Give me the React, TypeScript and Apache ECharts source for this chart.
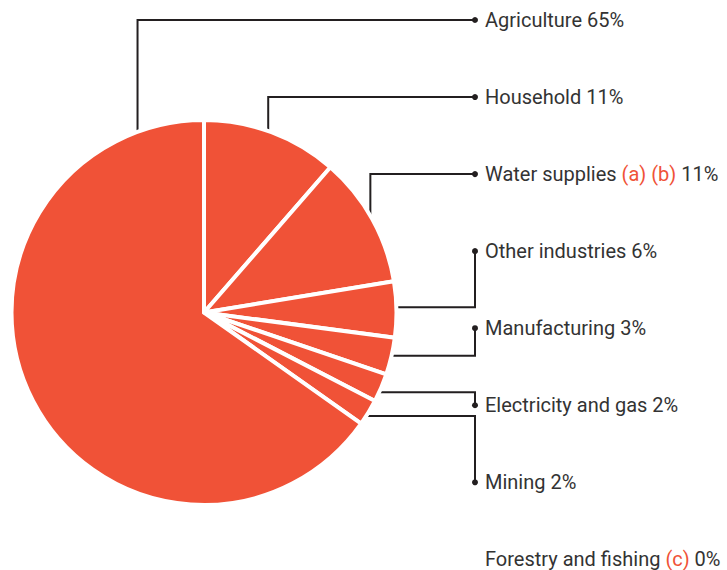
import React, { useEffect, useRef } from 'react';
import * as echarts from 'echarts';

// ---- data ----
const categories = [
  'Agriculture',
  'Household',
  'Water supplies',
  'Other industries',
  'Manufacturing',
  'Electricity and gas',
  'Mining',
  'Forestry and fishing',
];
const footnotes = ['', '', '(a) (b)', '', '', '', '', '(c)'];
const labelPercents = [65, 11, 11, 6, 3, 2, 2, 0];
// slice sizes as drawn in the picture (share of the circle, %)
const sliceShares = [65.2, 11.4, 11.0, 4.7, 3.1, 2.4, 2.2, 0];
// order of slices clockwise from 12 o'clock
const pieOrder = [1, 2, 3, 4, 5, 6, 0, 7];

// ---- style / layout ----
const COLOR = '#f05237';
const INK = '#231f20';
const TEXT = '#333333';
const FONT = 'Roboto';
const FONT_SIZE = 20;
const CX = 204;
const CY = 312.5;
const R = 190.5;
const BORDER = 4;
const DOT_X = 475;
const TEXT_X = 485;
const ROW0 = 20;
const ROW_STEP = 77.05;
// where along its slice each leader line attaches (0 = start, 1 = end)
const anchorFrac = [0.913, 0.48, 0.5, 0.46, 0.5, 0.7, 0.7, 0.5];

function sliceAngles() {
  const total = sliceShares.reduce((a, b) => a + b, 0);
  const res: { start: number; end: number }[] = [];
  let acc = 0;
  pieOrder.forEach((c) => {
    const start = acc;
    acc += (sliceShares[c] / total) * 360;
    res[c] = { start, end: acc };
  });
  return res;
}

function leaderPoints(c: number): number[][] | null {
  if (c === 7) return null;
  const ang = sliceAngles()[c];
  const a = ang.start + anchorFrac[c] * (ang.end - ang.start);
  const rad = (a * Math.PI) / 180;
  const ax = CX + R * Math.sin(rad);
  const ay = CY - R * Math.cos(rad);
  const rowY = ROW0 + ROW_STEP * c;
  if (Math.cos(rad) > 0.2) {
    return [
      [ax, ay],
      [ax, rowY],
      [DOT_X, rowY],
    ];
  }
  return [
    [ax, ay],
    [DOT_X, ay],
    [DOT_X, rowY],
  ];
}

export default function App() {
  const ref = useRef<HTMLDivElement>(null);
  useEffect(() => {
    document.body.style.margin = '0';
    if (!ref.current) return;
    const chart = echarts.init(ref.current, undefined, { renderer: 'svg' });

    const dots = categories
      .map((_, c) => c)
      .filter((c) => c !== 7)
      .map((c) => ({
        type: 'circle',
        silent: true,
        z: 100,
        shape: { cx: DOT_X, cy: ROW0 + ROW_STEP * c, r: 3 },
        style: { fill: INK },
      }));

    chart.setOption({
      animation: false,
      backgroundColor: '#ffffff',
      graphic: dots,
      series: [
        {
          type: 'pie',
          center: [CX, CY],
          radius: R + BORDER / 2,
          startAngle: 90,
          clockwise: true,
          avoidLabelOverlap: false,
          silent: true,
          itemStyle: { color: COLOR, borderColor: '#ffffff', borderWidth: BORDER },
          label: {
            show: true,
            position: 'outside',
            lineHeight: 20,
            formatter: (p: any) => {
              const c = pieOrder[p.dataIndex];
              const name = categories[c];
              const note = footnotes[c];
              const pct = labelPercents[c];
              return note
                ? `{t|${name} }{n|${note}}{t| ${pct}%}`
                : `{t|${name} ${pct}%}`;
            },
            rich: {
              t: { color: TEXT, fontFamily: FONT, fontSize: FONT_SIZE, lineHeight: 20 },
              n: { color: COLOR, fontFamily: FONT, fontSize: FONT_SIZE, lineHeight: 20 },
            },
          },
          labelLine: {
            show: true,
            smooth: false,
            lineStyle: { color: INK, width: 2 },
          },
          labelLayout: (p: any) => {
            const c = pieOrder[p.dataIndex];
            const pts = leaderPoints(c);
            const out: any = {
              x: TEXT_X,
              y: ROW0 + ROW_STEP * c,
              align: 'left',
              verticalAlign: 'middle',
            };
            if (pts) out.labelLinePoints = pts;
            return out;
          },
          data: pieOrder.map((c) => ({
            name: categories[c],
            value: sliceShares[c],
            labelLine: c === 7 ? { show: false } : undefined,
          })),
        },
      ],
    });
    return () => chart.dispose();
  }, []);
  return <div ref={ref} style={{ width: 727, height: 570 }} />;
}
